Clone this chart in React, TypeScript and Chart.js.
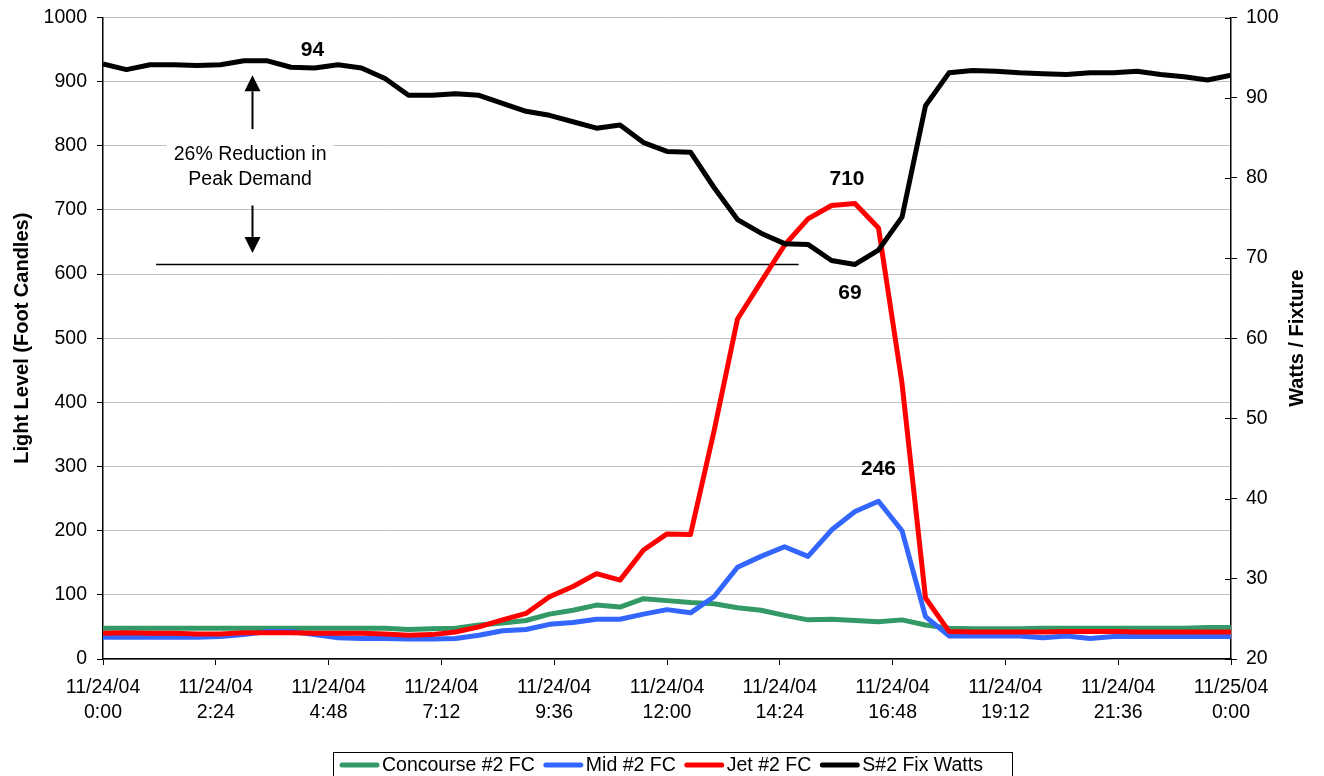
import React, { useEffect, useRef } from "react";
import { Chart, registerables } from "chart.js";

Chart.register(...registerables);

// ---- Data ----
const hours = [
  0, 0.5, 1, 1.5, 2, 2.5, 3, 3.5, 4, 4.5, 5, 5.5, 6, 6.5, 7, 7.5, 8, 8.5, 9, 9.5,
  10, 10.5, 11, 11.5, 12, 12.5, 13, 13.5, 14, 14.5, 15, 15.5, 16, 16.5, 17, 17.5,
  18, 18.5, 19, 19.5, 20, 20.5, 21, 21.5, 22, 22.5, 23, 23.5, 24,
];

const concourseFC = [
  48, 48, 48, 48, 48, 48, 48, 48, 48, 48, 48, 48, 48,
  46, 47, 48, 53, 56, 60, 70, 76, 84, 81, 94, 91, 88, 86, 80, 76, 68, 61, 62, 60, 58, 61, 53, 48,
  47, 47, 47, 48, 48, 48, 48, 48, 48, 48, 49, 49,
];

const midFC = [
  34, 34, 34, 34, 34, 35, 38,
  43, 43, 38, 33, 32, 32, 31, 31, 32,
  37, 44, 46, 54, 57, 62, 62, 70, 77, 72, 97, 143, 160, 175, 160, 201, 230, 246, 200, 66, 36,
  36, 36, 36, 33, 36, 32, 35, 35, 35, 35, 35, 35,
];

const jetFC = [
  40, 41, 40, 40, 39, 39, 41, 41, 41, 40, 40, 40, 39, 37, 38, 42,
  50, 61, 71, 97, 113, 133, 123, 170, 195, 194, 355, 530, 588, 645, 686, 707, 710, 672, 430, 95, 43,
  42, 42, 42, 42, 43, 43, 43, 42, 42, 42, 42, 42,
];

const fixWatts = [
  94.2, 93.5, 94.1, 94.1, 94.0, 94.1, 94.6, 94.6, 93.8, 93.7, 94.1, 93.7, 92.4,
  90.3, 90.3, 90.5, 90.3, 89.3, 88.3, 87.8, 87.0, 86.2, 86.6, 84.4, 83.3, 83.2,
  78.8, 74.8, 73.1, 71.8, 71.7, 69.7, 69.2, 71.0, 75.1, 89.0, 93.1, 93.4, 93.3,
  93.1, 93.0, 92.9, 93.1, 93.1, 93.3, 92.9, 92.6, 92.2, 92.8,
];

const xTickHours = [0, 2.4, 4.8, 7.2, 9.6, 12, 14.4, 16.8, 19.2, 21.6, 24];
const xTickLabels = [
  ["11/24/04", "0:00"],
  ["11/24/04", "2:24"],
  ["11/24/04", "4:48"],
  ["11/24/04", "7:12"],
  ["11/24/04", "9:36"],
  ["11/24/04", "12:00"],
  ["11/24/04", "14:24"],
  ["11/24/04", "16:48"],
  ["11/24/04", "19:12"],
  ["11/24/04", "21:36"],
  ["11/25/04", "0:00"],
];

const seriesNames = ["Concourse #2 FC", "Mid #2 FC", "Jet #2 FC", "S#2 Fix Watts"];
const seriesColors = ["#339966", "#3366FF", "#FF0000", "#000000"];

const leftTitle = "Light Level (Foot Candles)";
const rightTitle = "Watts / Fixture";
const annotationLines = ["26% Reduction in", "Peak Demand"];

// value labels: [text, seriesIndex, pointIndex, x offset, y offset]
const valueLabels: [string, number, number, number, number][] = [
  ["94", 3, 9, -2, -18],
  ["710", 2, 32, -8, -24],
  ["69", 3, 32, -5, 29],
  ["246", 1, 33, 0, -32],
];

const FONT = "'Liberation Sans', Arial, sans-serif";

export default function App() {
  const ref = useRef<HTMLCanvasElement>(null);

  useEffect(() => {
    const canvas = ref.current!;

    const decor = {
      id: "decor",
      beforeDatasetsDraw(chart: any) {
        const ctx = chart.ctx;
        const xs = chart.scales.x;
        const ys = chart.scales.y;
        const ys1 = chart.scales.y1;
        const px = (v: number) => xs.getPixelForValue(v);
        const py = (v: number) => ys.getPixelForValue(v);
        ctx.save();
        // white box behind annotation text
        const cx = px(3.13);
        ctx.font = `19.5px ${FONT}`;
        const w = Math.max(...annotationLines.map((t) => ctx.measureText(t).width)) + 14;
        const t1 = py(787);
        const t2 = py(748);
        ctx.fillStyle = "#ffffff";
        ctx.fillRect(cx - w / 2, t1 - 22, w, t2 - t1 + 46);
        ctx.fillStyle = "#000";
        ctx.textAlign = "center";
        ctx.textBaseline = "middle";
        ctx.fillText(annotationLines[0], cx, t1);
        ctx.fillText(annotationLines[1], cx, t2);

        // arrows
        const ax = Math.round(px(3.17)) + 0.5;
        ctx.strokeStyle = "#000";
        ctx.lineWidth = 2;
        const upTip = py(910);
        const upBase = upTip + 16;
        const upBottom = py(826);
        ctx.beginPath();
        ctx.moveTo(ax, upBottom);
        ctx.lineTo(ax, upBase);
        ctx.stroke();
        ctx.beginPath();
        ctx.moveTo(ax, upTip);
        ctx.lineTo(ax - 8, upBase);
        ctx.lineTo(ax + 8, upBase);
        ctx.closePath();
        ctx.fill();
        const dnTip = py(633);
        const dnBase = dnTip - 16;
        const dnTop = py(707);
        ctx.beginPath();
        ctx.moveTo(ax, dnTop);
        ctx.lineTo(ax, dnBase);
        ctx.stroke();
        ctx.beginPath();
        ctx.moveTo(ax, dnTip);
        ctx.lineTo(ax - 8, dnBase);
        ctx.lineTo(ax + 8, dnBase);
        ctx.closePath();
        ctx.fill();

        // horizontal reference line at minimum watts
        const hy = Math.round(ys1.getPixelForValue(Math.min(...fixWatts))) + 0.5;
        ctx.lineWidth = 1.5;
        ctx.beginPath();
        ctx.moveTo(px(1.13), hy);
        ctx.lineTo(px(14.8), hy);
        ctx.stroke();
        ctx.restore();
      },
      afterDatasetsDraw(chart: any) {
        const ctx = chart.ctx;
        ctx.save();
        ctx.font = `bold 21px ${FONT}`;
        ctx.fillStyle = "#000";
        ctx.textAlign = "center";
        ctx.textBaseline = "middle";
        valueLabels.forEach(([txt, ds, idx, ox, oy]) => {
          const el = chart.getDatasetMeta(ds).data[idx];
          ctx.fillText(txt, el.x + ox, el.y + oy);
        });
        ctx.restore();
      },
      afterDraw(chart: any) {
        const ctx = chart.ctx;
        const area = chart.chartArea;
        const ys1 = chart.scales.y1;
        ctx.save();
        // inward ticks on right axis
        ctx.strokeStyle = "#000";
        ctx.lineWidth = 1;
        ys1.ticks.forEach((t: any) => {
          const yy = Math.round(ys1.getPixelForValue(t.value)) + 0.5;
          ctx.beginPath();
          ctx.moveTo(area.right - 6, yy);
          ctx.lineTo(area.right, yy);
          ctx.stroke();
        });
        // axis titles
        ctx.font = `bold 20px ${FONT}`;
        ctx.fillStyle = "#000";
        ctx.textAlign = "center";
        ctx.textBaseline = "middle";
        const midY = (area.top + area.bottom) / 2;
        ctx.save();
        ctx.translate(22, midY);
        ctx.rotate(-Math.PI / 2);
        ctx.fillText(leftTitle, 0, 0);
        ctx.restore();
        ctx.save();
        ctx.translate(1297, midY);
        ctx.rotate(-Math.PI / 2);
        ctx.fillText(rightTitle, 0, 0);
        ctx.restore();

        // legend
        ctx.font = `19.5px ${FONT}`;
        ctx.textAlign = "left";
        ctx.textBaseline = "middle";
        ctx.lineWidth = 1;
        ctx.strokeStyle = "#000";
        ctx.strokeRect(333.5, 752.5, 679, 40);
        let lx = 340;
        const ly = 765;
        seriesNames.forEach((name, i) => {
          ctx.strokeStyle = seriesColors[i];
          ctx.lineWidth = 5;
          ctx.lineCap = "round";
          ctx.beginPath();
          ctx.moveTo(lx + 2, ly);
          ctx.lineTo(lx + 37, ly);
          ctx.stroke();
          ctx.fillStyle = "#000";
          ctx.fillText(name, lx + 42, ly + 1);
          lx += 42 + ctx.measureText(name).width + 9;
        });
        ctx.restore();
      },
    };

    const mk = (vals: number[]) => hours.map((h, i) => ({ x: h, y: vals[i] }));
    const tickFont = { family: FONT, size: 19.5, lineHeight: 25 / 19.5 };
    const noPad = (s: any) => {
      s.paddingTop = 0;
      s.paddingBottom = 0;
    };

    const chart = new Chart(canvas, {
      type: "line",
      data: {
        datasets: [
          { label: seriesNames[0], data: mk(concourseFC), borderColor: seriesColors[0], yAxisID: "y", order: 4 },
          { label: seriesNames[1], data: mk(midFC), borderColor: seriesColors[1], yAxisID: "y", order: 3 },
          { label: seriesNames[2], data: mk(jetFC), borderColor: seriesColors[2], yAxisID: "y", order: 2 },
          { label: seriesNames[3], data: mk(fixWatts), borderColor: seriesColors[3], yAxisID: "y1", order: 1 },
        ],
      },
      options: {
        responsive: false,
        animation: false,
        devicePixelRatio: 1,
        layout: { padding: { top: 17.5, left: 0, right: 0, bottom: 0 } },
        plugins: { legend: { display: false }, tooltip: { enabled: false } },
        elements: {
          point: { radius: 0, hoverRadius: 0 },
          line: { borderWidth: 5, tension: 0, borderJoinStyle: "round", borderCapStyle: "butt", fill: false },
        },
        scales: {
          x: {
            type: "linear",
            position: "bottom",
            min: 0,
            max: 24,
            afterBuildTicks: (s: any) => {
              s.ticks = xTickHours.map((v) => ({ value: v }));
            },
            ticks: {
              autoSkip: false,
              maxRotation: 0,
              minRotation: 0,
              padding: 10,
              color: "#000",
              font: tickFont,
              callback: (v: any) => {
                const k = xTickHours.findIndex((h) => Math.abs(h - v) < 1e-6);
                return k >= 0 ? xTickLabels[k] : "";
              },
            },
            grid: { drawOnChartArea: false, tickLength: 6, tickColor: "#000" },
            border: { color: "#000", width: 1.5 },
            afterFit: (s: any) => {
              s.height = 117;
            },
          },
          y: {
            type: "linear",
            position: "left",
            min: 0,
            max: 1000,
            ticks: { stepSize: 100, padding: 10, color: "#000", font: tickFont, callback: (v: any) => String(v) },
            grid: { color: "#c0c0c0", lineWidth: 1, tickColor: "#000", tickLength: 6 },
            border: { color: "#000", width: 1.5 },
            afterFit: (s: any) => {
              s.width = 103;
              noPad(s);
            },
          },
          y1: {
            type: "linear",
            position: "right",
            min: 20,
            max: 100,
            ticks: { stepSize: 10, padding: 9, color: "#000", font: tickFont, callback: (v: any) => String(v) },
            grid: { drawOnChartArea: false, tickColor: "#000", tickLength: 6 },
            border: { color: "#000", width: 1.5 },
            afterFit: (s: any) => {
              s.width = 93;
              noPad(s);
            },
          },
        },
      },
      plugins: [decor],
    } as any);

    return () => chart.destroy();
  }, []);

  return (
    <div style={{ position: "absolute", left: 0, top: 0, width: 1324, height: 776, background: "#fff", overflow: "hidden" }}>
      <canvas ref={ref} width={1324} height={776} style={{ display: "block", width: 1324, height: 776 }} />
    </div>
  );
}
